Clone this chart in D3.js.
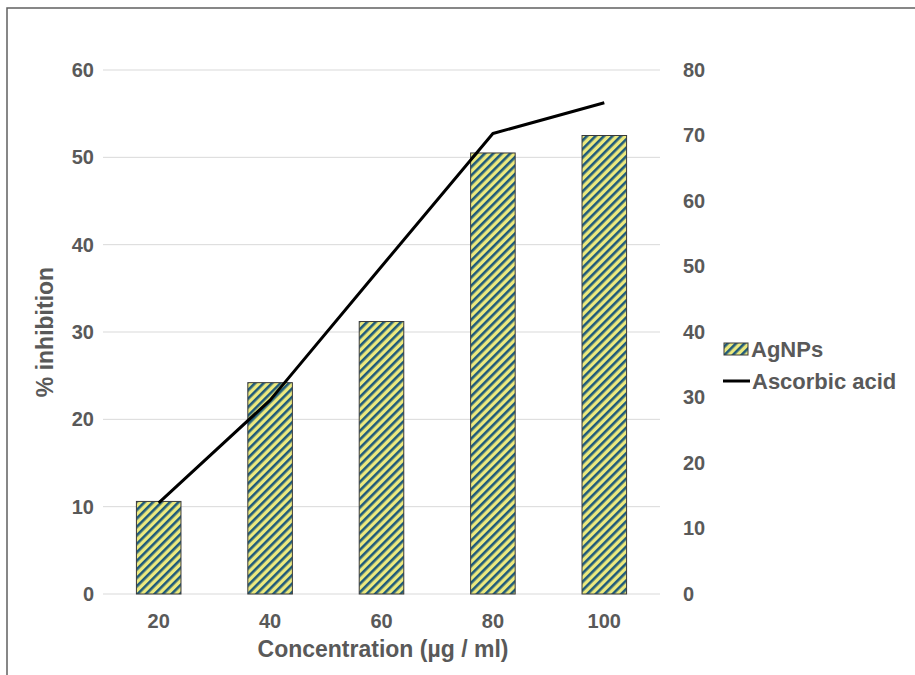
<!DOCTYPE html>
<html><head><meta charset="utf-8">
<script src="https://cdn.jsdelivr.net/npm/d3@7"></script>
<style>body{margin:0;background:#fff;}svg{display:block;font-family:"Liberation Sans",Arial,sans-serif;font-weight:bold;}</style>
</head><body><svg id="c" width="915" height="675"></svg>
<script>
const categories = ["20","40","60","80","100"];
const agnps = [10.6, 24.2, 31.2, 50.5, 52.5];
const ascorbic = [13.9, 29.6, 50.0, 70.3, 75.0];
const leftTicks = [0,10,20,30,40,50,60];
const rightTicks = [0,10,20,30,40,50,60,70,80];

const svg = d3.select("#c");
const txt = "#595959";
const m = {l:103, r:660, t:70, b:594};
const fs = 20;

// frame
svg.append("rect").attr("x",7).attr("y",8).attr("width",930).attr("height",700)
  .attr("fill","none").attr("stroke","#606060").attr("stroke-width",1.5);

const defs = svg.append("defs");
const pat = defs.append("pattern").attr("id","hatch").attr("patternUnits","userSpaceOnUse")
  .attr("width",6).attr("height",6).attr("patternTransform","rotate(45)");
pat.append("rect").attr("width",6).attr("height",6).attr("fill","#ece97e");
pat.append("rect").attr("width",2.6).attr("height",6).attr("fill","#1f5a7a");

const x = d3.scaleBand().domain(categories).range([m.l,m.r]).paddingInner(0.6).paddingOuter(0.3);
const yL = d3.scaleLinear().domain([0,60]).range([m.b,m.t]);
const yR = d3.scaleLinear().domain([0,80]).range([m.b,m.t]);

// gridlines
svg.append("g").selectAll("line").data(leftTicks).join("line")
  .attr("x1",m.l).attr("x2",m.r).attr("y1",d=>yL(d)).attr("y2",d=>yL(d))
  .attr("stroke","#d9d9d9").attr("stroke-width",1);

function styleAxis(g){
  g.select(".domain").remove();
  g.selectAll("text").attr("font-size",fs).attr("fill",txt)
   .attr("font-family","Liberation Sans, Arial").attr("font-weight","bold");
}
const gl = svg.append("g").attr("transform",`translate(${m.l},0)`)
  .call(d3.axisLeft(yL).tickValues(leftTicks).tickSize(0).tickPadding(9));
styleAxis(gl);

const gr = svg.append("g").attr("transform",`translate(${m.r},0)`)
  .call(d3.axisRight(yR).tickValues(rightTicks).tickSize(0).tickPadding(23));
styleAxis(gr);

const gx = svg.append("g").attr("transform",`translate(0,${m.b})`)
  .call(d3.axisBottom(x).tickSize(0).tickPadding(20));
styleAxis(gx);

// bars
svg.append("g").selectAll("rect").data(categories).join("rect")
  .attr("x",d=>x(d)).attr("width",x.bandwidth())
  .attr("y",(d,i)=>yL(agnps[i])).attr("height",(d,i)=>yL(0)-yL(agnps[i]))
  .attr("fill","url(#hatch)").attr("stroke","#3a3a3a").attr("stroke-width",1);

// line
const line = d3.line().x((d,i)=>x(categories[i])+x.bandwidth()/2).y(d=>yR(d));
svg.append("path").datum(ascorbic).attr("d",line)
  .attr("fill","none").attr("stroke","#000").attr("stroke-width",3).attr("stroke-linejoin","round");

// titles
svg.append("text").attr("transform","translate(53,332) rotate(-90)").attr("text-anchor","middle")
  .attr("font-size",23).attr("fill",txt).text("% inhibition");
svg.append("text").attr("x",383).attr("y",657).attr("text-anchor","middle")
  .attr("font-size",23).attr("fill",txt).text("Concentration (µg / ml)");

// legend
const lg = svg.append("g");
lg.append("rect").attr("x",724).attr("y",343).attr("width",24).attr("height",12)
  .attr("fill","url(#hatch)").attr("stroke","#3a3a3a").attr("stroke-width",1);
lg.append("text").attr("x",751).attr("y",357).attr("font-size",22).attr("fill",txt).text("AgNPs");
lg.append("line").attr("x1",723).attr("x2",750).attr("y1",381).attr("y2",381).attr("stroke","#000").attr("stroke-width",3);
lg.append("text").attr("x",752).attr("y",389).attr("font-size",22).attr("fill",txt).text("Ascorbic acid");
</script></body></html>
